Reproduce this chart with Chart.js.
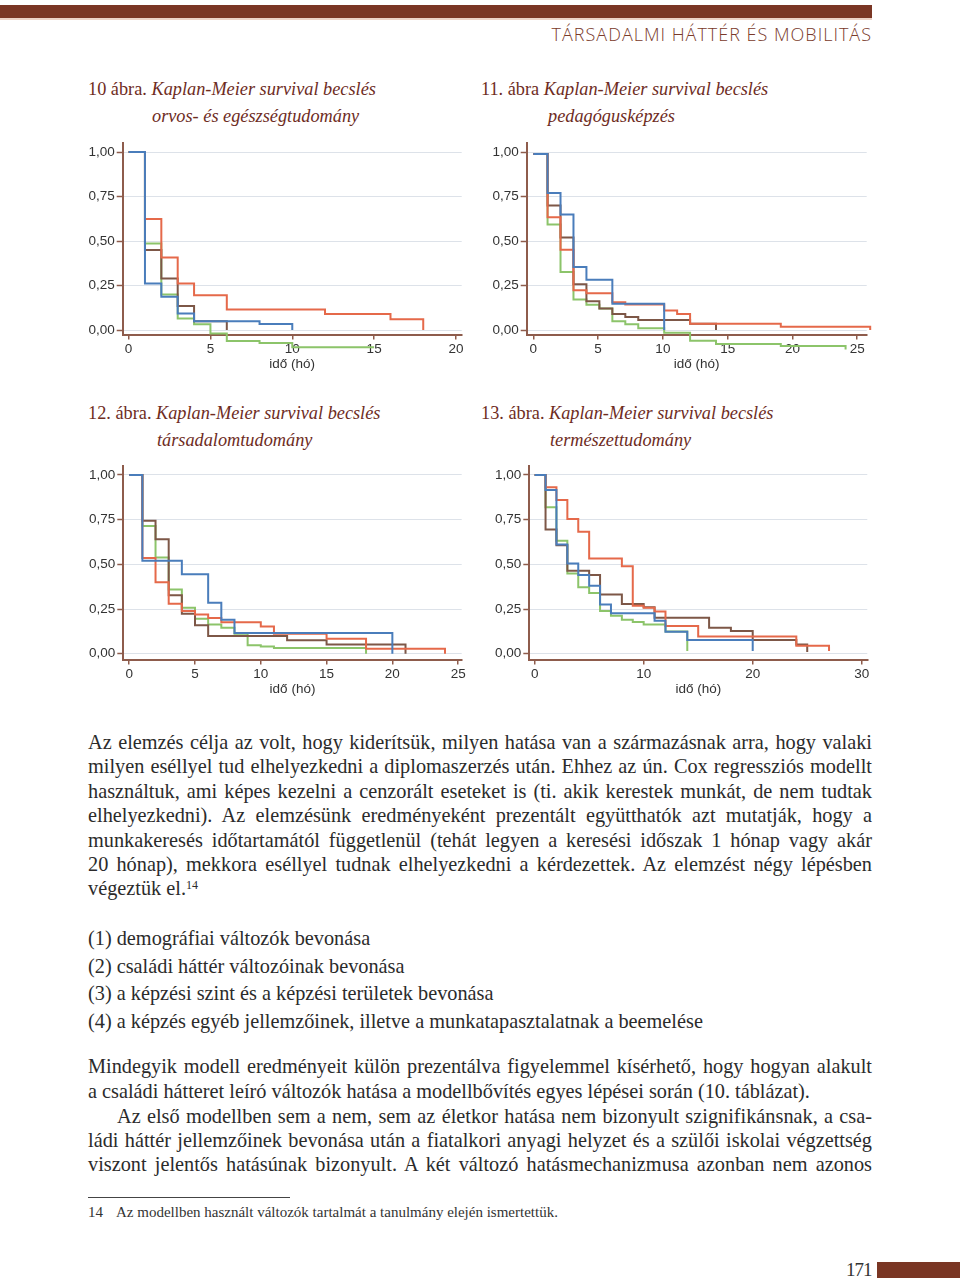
<!DOCTYPE html>
<html lang="hu">
<head>
<meta charset="utf-8">
<script src="https://cdn.jsdelivr.net/npm/chart.js@4.4.1/dist/chart.umd.min.js"></script>
<style>
  body { margin:0; width:960px; height:1278px; overflow:hidden; background:#fff; position:relative; }
  .abs { position:absolute; }
  .fejlec { left:0; top:5px; width:872px; height:13px; background:#7a3624; }
  .fejlec2 { left:0; top:18px; width:872px; height:2px; background:#ecd2c6; }
  .cim { right:88px; top:22px; font-family:"Open Sans","Lato",sans-serif; font-weight:300; font-size:18px; color:#7a3a2a; letter-spacing:1px; white-space:nowrap; }
  .abra { font-family:"Liberation Serif",serif; font-size:18.3px; color:#6e2c1e; white-space:nowrap; }
  .abra i { font-style:italic; }
  .sor { left:88px; width:784px; font-family:"Liberation Serif",serif; font-size:20.3px; line-height:24px; color:#2b2b2b; white-space:nowrap; }
  .just { text-align:justify; text-align-last:justify; }
  sup { font-size:12px; vertical-align:6px; line-height:0; }
  .labj { font-family:"Liberation Serif",serif; font-size:15px; color:#333; white-space:nowrap; }
  canvas { position:absolute; }
</style>
</head>
<body>
<div class="abs fejlec"></div>
<div class="abs fejlec2"></div>
<div class="abs cim">TÁRSADALMI HÁTTÉR ÉS MOBILITÁS</div>

<div class="abs abra" style="left:88px;top:79px">10 ábra. <i>Kaplan-Meier survival becslés</i></div>
<div class="abs abra" style="left:152px;top:106px"><i>orvos- és egészségtudomány</i></div>
<div class="abs abra" style="left:481px;top:79px">11. ábra <i>Kaplan-Meier survival becslés</i></div>
<div class="abs abra" style="left:548px;top:106px"><i>pedagógusképzés</i></div>
<div class="abs abra" style="left:88px;top:403px">12. ábra. <i>Kaplan-Meier survival becslés</i></div>
<div class="abs abra" style="left:157px;top:430px"><i>társadalomtudomány</i></div>
<div class="abs abra" style="left:481px;top:403px">13. ábra. <i>Kaplan-Meier survival becslés</i></div>
<div class="abs abra" style="left:550px;top:430px"><i>természettudomány</i></div>

<canvas id="abra10" width="392" height="235" style="left:80px;top:138px"></canvas>
<canvas id="abra11" width="400" height="235" style="left:480px;top:138px"></canvas>
<canvas id="abra12" width="392" height="236" style="left:80px;top:462px"></canvas>
<canvas id="abra13" width="400" height="236" style="left:480px;top:462px"></canvas>

<div class="abs sor just" style="top:730px">Az elemzés célja az volt, hogy kiderítsük, milyen hatása van a származásnak arra, hogy valaki</div>
<div class="abs sor just" style="top:754px">milyen eséllyel tud elhelyezkedni a diplomaszerzés után. Ehhez az ún. Cox regressziós modellt</div>
<div class="abs sor just" style="top:779px">használtuk, ami képes kezelni a cenzorált eseteket is (ti. akik kerestek munkát, de nem tudtak</div>
<div class="abs sor just" style="top:803px">elhelyezkedni). Az elemzésünk eredményeként prezentált együtthatók azt mutatják, hogy a</div>
<div class="abs sor just" style="top:828px">munkakeresés időtartamától függetlenül (tehát legyen a keresési időszak 1 hónap vagy akár</div>
<div class="abs sor just" style="top:852px">20 hónap), mekkora eséllyel tudnak elhelyezkedni a kérdezettek. Az elemzést négy lépésben</div>
<div class="abs sor" style="top:876px">végeztük el.<sup>14</sup></div>

<div class="abs sor" style="top:926px">(1) demográfiai változók bevonása</div>
<div class="abs sor" style="top:954px">(2) családi háttér változóinak bevonása</div>
<div class="abs sor" style="top:981px">(3) a képzési szint és a képzési területek bevonása</div>
<div class="abs sor" style="top:1009px">(4) a képzés egyéb jellemzőinek, illetve a munkatapasztalatnak a beemelése</div>

<div class="abs sor just" style="top:1054px">Mindegyik modell eredményeit külön prezentálva figyelemmel kísérhető, hogy hogyan alakult</div>
<div class="abs sor" style="top:1079px">a családi hátteret leíró változók hatása a modellbővítés egyes lépései során (10. táblázat).</div>
<div class="abs sor just" style="top:1104px;left:117px;width:755px">Az első modellben sem a nem, sem az életkor hatása nem bizonyult szignifikánsnak, a csa-</div>
<div class="abs sor just" style="top:1128px">ládi háttér jellemzőinek bevonása után a fiatalkori anyagi helyzet és a szülői iskolai végzettség</div>
<div class="abs sor just" style="top:1152px">viszont jelentős hatásúnak bizonyult. A két változó hatásmechanizmusa azonban nem azonos</div>

<div class="abs" style="left:88px;top:1197px;width:202px;height:1px;background:#444"></div>
<div class="abs labj" style="left:88px;top:1204px">14</div>
<div class="abs labj" style="left:116px;top:1204px">Az modellben használt változók tartalmát a tanulmány elején ismertettük.</div>

<div class="abs" style="left:846px;top:1259px;font-family:'Liberation Serif',serif;font-size:19px;color:#333;letter-spacing:-1px">171</div>
<div class="abs" style="left:877px;top:1262px;width:83px;height:16px;background:#7a3624"></div>

<script>
// Adatok : [idő (hó), túlélési arány] pontok, csoportonként
// 10. ábra - orvos- és egészségtudomány
const orvosKek    = [[0,1],[1,0.262],[2,0.187],[3,0.093],[4,0.05],[8,0.034],[10,0]];
const orvosPiros  = [[0,1],[1,0.624],[2,0.407],[3,0.262],[4,0.196],[6,0.116],[12,0.09],[16,0.06],[18,0]];
const orvosBarna  = [[0,1],[1,0.449],[2,0.29],[3,0.135],[4,0.05],[6,0]];
const orvosZold   = [[0,1],[1,0.486],[2,0.2],[3,0.065],[4,0.032],[5,-0.019],[6,-0.062],[8,-0.073],[10,-0.097],[15,-0.097]];

// 11. ábra - pedagógusképzés
const pedKek   = [[0,0.99],[1.1,0.77],[2.1,0.65],[3.1,0.355],[4.1,0.283],[6.1,0.148],[10.1,0]];
const pedPiros = [[0,0.99],[1.1,0.635],[2.1,0.452],[3.1,0.224],[4.1,0.207],[6.1,0.157],[7.1,0.143],[10.1,0.11],[11.1,0.09],[12.1,0.036],[19.1,0.018],[26,0]];
const pedBarna = [[0,0.99],[1.1,0.70],[2.1,0.52],[3.1,0.258],[4.1,0.162],[5.1,0.121],[6.1,0.09],[7.1,0.074],[8.1,0.056],[12.1,0.036],[14.1,0]];
const pedZold  = [[0,0.99],[1.1,0.594],[2.1,0.327],[3.1,0.172],[4.1,0.142],[5.1,0.121],[6.1,0.05],[7.1,0.032],[8.1,0.01],[10.1,-0.015],[12.1,-0.06],[14.1,-0.078],[19.1,-0.09],[24.1,-0.11]];

// 12. ábra - társadalomtudomány
const tarsKek   = [[0,1],[1,0.52],[4,0.445],[6,0.286],[7,0.19],[8,0.116],[20,0]];
const tarsPiros = [[0,1],[1,0.536],[2,0.40],[3,0.28],[4,0.239],[5,0.22],[6,0.2],[7,0.176],[10,0.153],[11,0.112],[15,0.084],[18,0.028],[24,0]];
const tarsBarna = [[0,1],[1,0.744],[2,0.641],[3,0.327],[4,0.224],[5,0.159],[6,0.1],[12,0.075],[15,0.052],[21,0]];
const tarsZold  = [[0,1],[1,0.714],[2,0.538],[3,0.36],[4,0.258],[5,0.196],[6,0.164],[7,0.145],[8,0.112],[9,0.047],[10,0.04],[11,0.032],[18,0]];

// 13. ábra - természettudomány
const termKek   = [[0,1],[1,0.916],[2,0.611],[3,0.505],[4,0.44],[5,0.38],[6,0.275],[7,0.226],[11,0.185],[12,0.123],[14,0.077],[20,0.015]];
const termPiros = [[0,1],[1,0.931],[2,0.86],[3,0.753],[4,0.682],[5,0.533],[8,0.49],[9,0.269],[10,0.257],[11,0.237],[12,0.155],[15,0.097],[24,0.045],[27,0.015]];
const termBarna = [[0,1],[1,0.695],[2,0.607],[3,0.464],[5,0.441],[6,0.332],[8,0.279],[10,0.26],[11,0.201],[16,0.146],[18,0.127],[20,0.077],[24,0.052],[25,0.01]];
const termZold  = [[0,1],[1,0.819],[2,0.632],[3,0.449],[4,0.372],[5,0.34],[6,0.239],[7,0.213],[8,0.19],[9,0.177],[10,0.164],[12,0.125],[14,0.015]];

// Tengely feliratok
const yTicks = [0, 0.25, 0.5, 0.75, 1];
const xTicks20 = [0, 5, 10, 15, 20];
const xTicks25 = [0, 5, 10, 15, 20, 25];
const xTicks30 = [0, 10, 20, 30];
const xCim = 'idő (hó)';

const szinek = { kek:'#4a7dbb', piros:'#e5694a', barna:'#7d5747', zold:'#8cc46a' };
const tengelySzin = '#8e5c4c';
const betu = '"Liberation Sans", Arial, sans-serif';

function rajzolKM(id, kek, piros, barna, zold, xTicks, xMin, xMax, yMin, geo) {
  // a sorrend: az elso dataset kerul legfelulre
  const sorok = [[kek, szinek.kek], [piros, szinek.piros], [barna, szinek.barna], [zold, szinek.zold]];
  new Chart(document.getElementById(id), {
    type: 'line',
    data: {
      datasets: sorok.map(s => ({
        data: s[0].map(p => ({ x: p[0], y: p[1] })),
        borderColor: s[1],
        borderWidth: 2,
        stepped: 'before',
        pointRadius: 0,
        fill: false,
        clip: false
      }))
    },
    options: {
      responsive: false,
      animation: false,
      devicePixelRatio: 1,
      layout: { padding: { top: geo.padTop, right: geo.padRight, left: 0, bottom: 0 } },
      plugins: { legend: { display: false }, tooltip: { enabled: false } },
      scales: {
        x: {
          type: 'linear', min: xMin, max: xMax,
          afterBuildTicks: sc => { sc.ticks = xTicks.map(v => ({ value: v })); },
          afterFit: sc => { sc.height = 38.5; sc.paddingLeft = 0; sc.paddingRight = 0; },
          grid: { drawOnChartArea: false, drawTicks: true, tickLength: 5, color: tengelySzin, lineWidth: 1.5 },
          border: { color: tengelySzin, width: 2 },
          ticks: { color: '#333', font: { family: betu, size: 13.5 }, padding: 2, maxRotation: 0, autoSkip: false },
          title: { display: true, text: xCim, color: '#333', font: { family: betu, size: 13.5 }, padding: { top: 0, bottom: 1 } }
        },
        y: {
          min: yMin, max: 1.05,
          afterBuildTicks: sc => { sc.ticks = yTicks.map(v => ({ value: v })); },
          afterFit: sc => { sc.width = geo.yW; sc.paddingTop = 0; sc.paddingBottom = 0; },
          grid: { color: '#dde2e9', lineWidth: 1, tickColor: tengelySzin, tickLength: 6, tickWidth: 1.5 },
          border: { color: tengelySzin, width: 2 },
          ticks: { color: '#333', font: { family: betu, size: 13.5 }, padding: 2,
                   callback: v => v.toFixed(2).replace('.', ',') }
        }
      }
    }
  });
}

rajzolKM('abra10', orvosKek, orvosPiros, orvosBarna, orvosZold, xTicks20, -0.36, 20.35, -0.025, { padTop: 5.1, padRight: 10.3, yW: 42.7 });
rajzolKM('abra11', pedKek, pedPiros, pedBarna, pedZold, xTicks25, -0.51, 25.73, -0.025, { padTop: 5.33, padRight: 13.3, yW: 46.7 });
rajzolKM('abra12', tarsKek, tarsPiros, tarsBarna, tarsZold, xTicks25, -0.45, 25.27, -0.032, { padTop: 4.0, padRight: 10.3, yW: 43.3 });
rajzolKM('abra13', termKek, termPiros, termBarna, termZold, xTicks30, -0.49, 30.51, -0.032, { padTop: 4.0, padRight: 12.7, yW: 49.3 });
</script>
</body>
</html>
